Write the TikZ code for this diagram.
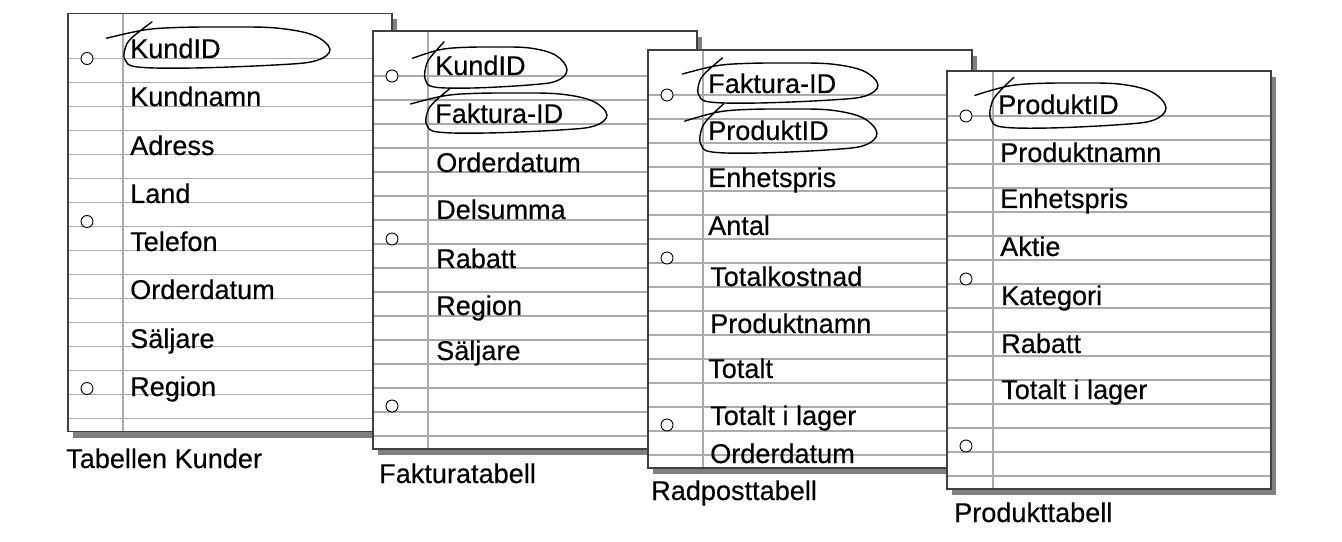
\documentclass[tikz,border=0pt]{standalone}
\usepackage{fontspec}
\setmainfont{Liberation Sans}
\newfontfamily\sheetfont[FakeBold=0.35]{Liberation Sans}
\newcommand\drawsheet[3]{%
  \fill[sheetshadow] ({#1+5},{#2+6}) rectangle ({#1+324+5},{#2+418+6});
  \fill[white] (#1,#2) rectangle ({#1+324},{#2+418});
  \foreach \k in {0,...,15} \draw[ruleline] (#1,{#2+45+24*\k}) -- ({#1+324},{#2+45+24*\k});
  \draw[ruleline] ({#1+#3},#2) -- ({#1+#3},{#2+418});
  \draw[sheetedge] (#1,#2) rectangle ({#1+324},{#2+418});
  \foreach \d in {45,208,375} \draw[hole] ({#1+19},{#2+\d}) circle[radius=6];
}
\newcommand\keyloop[4]{%
  \pgfmathsetmacro\lsx{(#2-#1)/100}%
  \pgfmathsetmacro\lsy{(#4-#3)/40}%
  \begin{scope}[shift={(#1,#3)}, xscale=\lsx, yscale=\lsy]
    \draw[loopline] plot[smooth, tension=0.6] coordinates {(-8,11) (10,3) (26,0.5) (50,0) (74,1) (92,8) (100,22) (93,33) (74,37) (34,40) (7,39) (1,32) (1,21) (4,11) (14,-5)};
  \end{scope}}
\begin{document}
\begin{tikzpicture}[x=1bp,y=-1bp,
  field/.style={anchor=base west, inner sep=0pt, font=\sheetfont\fontsize{27.2}{31}\selectfont},
  caption/.style={anchor=base west, inner sep=0pt, font=\sheetfont\fontsize{27.2}{31}\selectfont},
  ruleline/.style={draw=black!33, line width=1.2bp},
  sheetedge/.style={draw=black!75, line width=1.3bp},
  sheetshadow/.style={fill=black!50},
  hole/.style={draw=black, line width=0.9bp, fill=white},
  loopline/.style={draw=black, line width=1.4bp, line join=round, line cap=round}]
\useasboundingbox (0,0) rectangle (1342,542);

% Sheet 1
\drawsheet{68}{13.5}{55}
\node[field] (s1a) at (130,58) {KundID};
\node[field] (s1b) at (130,106) {Kundnamn};
\node[field] (s1c) at (130,155) {Adress};
\node[field] (s1d) at (130,203) {Land};
\node[field] (s1e) at (130,251) {Telefon};
\node[field] (s1f) at (130,299) {Orderdatum};
\node[field] (s1g) at (130,348) {Säljare};
\node[field] (s1h) at (130,396) {Region};
\keyloop{123}{330}{27}{68}
\node[caption] (cap1) at (66,468) {Tabellen Kunder};

% Sheet 2
\drawsheet{373}{31}{55}
\node[field] (s2a) at (435,75) {KundID};
\node[field] (s2b) at (435,123) {Faktura-ID};
\node[field] (s2c) at (436,172) {Orderdatum};
\node[field] (s2d) at (436,219) {Delsumma};
\node[field] (s2e) at (436,268) {Rabatt};
\node[field] (s2f) at (436,315) {Region};
\node[field] (s2g) at (436,360) {Säljare};
\keyloop{424}{567}{47}{88}
\keyloop{425}{607}{93}{133}
\node[caption] (cap2) at (379,483) {Fakturatabell};

% Sheet 3
\drawsheet{648}{50}{55}
\node[field] (s3a) at (708,93) {Faktura-ID};
\node[field] (s3b) at (708,140) {ProduktID};
\node[field] (s3c) at (708,187) {Enhetspris};
\node[field] (s3d) at (708,235) {Antal};
\node[field] (s3e) at (710,286) {Totalkostnad};
\node[field] (s3f) at (710,333) {Produktnamn};
\node[field] (s3g) at (708,378) {Totalt};
\node[field] (s3h) at (710,425) {Totalt i lager};
\node[field] (s3i) at (710,463) {Orderdatum};
\keyloop{697}{878}{63}{103}
\keyloop{699}{877}{109}{153}
\node[caption] (cap3) at (651,500) {Radposttabell};

% Sheet 4
\drawsheet{947}{71}{46}
\node[field] (s4a) at (998,114) {ProduktID};
\node[field] (s4b) at (1000,162) {Produktnamn};
\node[field] (s4c) at (1000,208) {Enhetspris};
\node[field] (s4d) at (1000,256) {Aktie};
\node[field] (s4e) at (1001,305) {Kategori};
\node[field] (s4f) at (1001,353) {Rabatt};
\node[field] (s4g) at (1001,399) {Totalt i lager};
\keyloop{989}{1166}{83}{128}
\node[caption] (cap4) at (954,522) {Produkttabell};
\end{tikzpicture}
\end{document}
